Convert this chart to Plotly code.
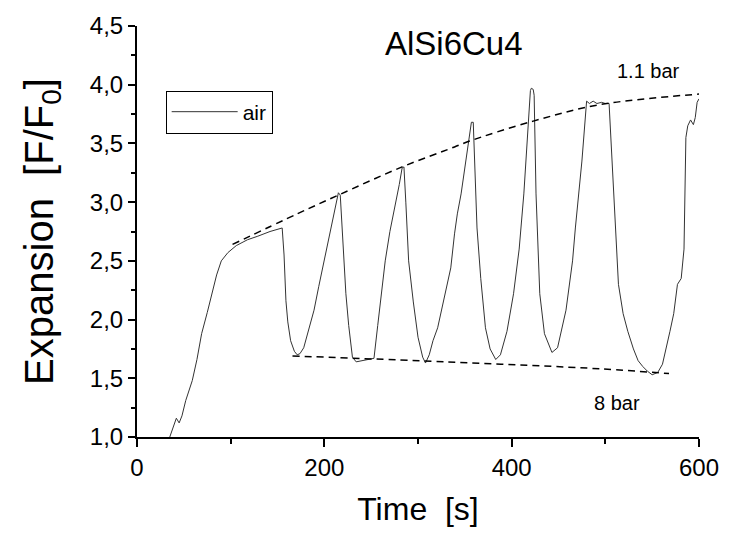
import plotly.graph_objects as go

# --- data ---
time_s = [35, 39, 42, 45, 48, 52, 59, 64, 69, 75, 80, 85, 90, 97, 106, 118, 129, 142, 155,
          157, 159, 161, 164, 168, 171, 174, 178, 183, 189, 194, 199, 205, 210, 213, 215, 217,
          219, 221, 223, 226, 230, 234, 240, 253, 257, 261, 265, 270, 276, 280, 283, 285,
          287, 290, 295, 300, 305, 308, 312, 316, 321, 328, 335, 339, 342, 346, 351, 355, 357,
          359, 361, 363, 367, 372, 377, 383, 388, 395, 402, 408, 413, 417, 420, 421, 423,
          424, 426, 430, 435, 443, 449, 458, 465, 468, 475, 480, 483, 487, 491, 496, 500, 504,
          507, 509, 514, 519, 524, 530, 535, 540, 545, 550, 556, 561, 565, 569, 573, 577, 581,
          584, 586, 588, 591, 594, 596, 598, 600]
expansion = [1.00, 1.10, 1.16, 1.12, 1.18, 1.31, 1.48, 1.66, 1.88, 2.06, 2.22, 2.38, 2.50, 2.57,
             2.63, 2.68, 2.71, 2.75, 2.78,
             2.55, 2.16, 1.98, 1.82, 1.73, 1.70, 1.71, 1.76, 1.90, 2.08, 2.28, 2.47, 2.67, 2.86,
             3.00, 3.08, 3.06,
             2.80, 2.45, 2.22, 1.95, 1.68, 1.64, 1.65, 1.67, 1.95, 2.25, 2.50, 2.75, 2.98, 3.15,
             3.29, 3.30,
             3.00, 2.50, 2.15, 1.85, 1.68, 1.63, 1.70, 1.82, 1.93, 2.18, 2.44, 2.73, 2.90, 3.07,
             3.35, 3.60, 3.68,
             3.68, 3.20, 2.78, 2.35, 1.93, 1.75, 1.66, 1.70, 1.90, 2.22, 2.60, 3.07, 3.55, 3.95,
             3.97, 3.96,
             3.91, 3.07, 2.22, 1.88, 1.72, 1.76, 2.08, 2.50, 2.78, 3.35, 3.86, 3.84, 3.86, 3.84,
             3.85, 3.84, 3.84,
             3.40, 3.00, 2.30, 2.05, 1.90, 1.75, 1.65, 1.60, 1.56, 1.53, 1.55, 1.62, 1.75, 1.90,
             2.05, 2.30, 2.35,
             2.60, 3.55, 3.65, 3.70, 3.66, 3.72, 3.85, 3.88]

# envelope at 1.1 bar (upper) and 8 bar (lower)
upper_t = [102, 171, 215, 283, 339, 355, 423, 494, 600]
upper_y = [2.64, 2.90, 3.06, 3.30, 3.47, 3.52, 3.69, 3.83, 3.92]
lower_t = [166, 330, 496, 568]
lower_y = [1.69, 1.64, 1.58, 1.54]

x_ticks = [0, 200, 400, 600]
y_ticks = [1.0, 1.5, 2.0, 2.5, 3.0, 3.5, 4.0, 4.5]

FONT = "Liberation Sans, Arial, sans-serif"

fig = go.Figure()

fig.add_trace(go.Scatter(
    x=time_s, y=expansion, mode="lines", name="air",
    line=dict(color="#333333", width=1),
))
fig.add_trace(go.Scatter(
    x=upper_t, y=upper_y, mode="lines", showlegend=False,
    line=dict(color="black", width=1.5, dash="7px,5px", shape="spline"),
))
fig.add_trace(go.Scatter(
    x=lower_t, y=lower_y, mode="lines", showlegend=False,
    line=dict(color="black", width=1.5, dash="7px,5px", shape="spline"),
))

fig.add_annotation(x=338, y=4.35, text="AlSi6Cu4", showarrow=False,
                   font=dict(size=33, color="black"))
fig.add_annotation(x=546, y=4.12, text="1.1 bar", showarrow=False,
                   font=dict(size=20, color="black"))
fig.add_annotation(x=512, y=1.29, text="8 bar", showarrow=False,
                   font=dict(size=20, color="black"))

fig.update_layout(
    width=731, height=537,
    margin=dict(l=137, r=22, t=24, b=100),
    paper_bgcolor="white", plot_bgcolor="white",
    font=dict(family=FONT, size=24, color="black"),
    separators=",.",
    showlegend=True,
    legend=dict(
        x=0.051, y=0.843, xanchor="left", yanchor="top",
        bordercolor="black", borderwidth=1, bgcolor="white",
        font=dict(size=21), itemwidth=66,
    ),
)

fig.update_xaxes(
    range=[0, 600], tickvals=x_ticks, showgrid=False, zeroline=False,
    showline=True, linecolor="black", linewidth=2,
    ticks="outside", ticklen=8, tickwidth=2, tickcolor="black",
    minor=dict(dtick=100, ticks="outside", ticklen=5, tickwidth=2, tickcolor="black", showgrid=False),
    title=dict(text="Time \u00a0[s]", font=dict(size=32), standoff=18),
)
fig.update_yaxes(
    range=[1.0, 4.5], tickvals=y_ticks, tickformat=".1f", showgrid=False, zeroline=False,
    showline=True, linecolor="black", linewidth=2,
    ticks="outside", ticklen=7, tickwidth=2, tickcolor="black",
    minor=dict(dtick=0.25, ticks="outside", ticklen=4, tickwidth=2, tickcolor="black", showgrid=False),
    title=dict(text="Expansion \u00a0[F/F<sub>0</sub>]", font=dict(size=40), standoff=24),
)

# drop the default 8px body margin so the figure fills the window exactly
fig.write_html("out.html",
               config={"displayModeBar": False},
               post_script="document.body.style.margin='0px';document.body.style.overflow='hidden';")
